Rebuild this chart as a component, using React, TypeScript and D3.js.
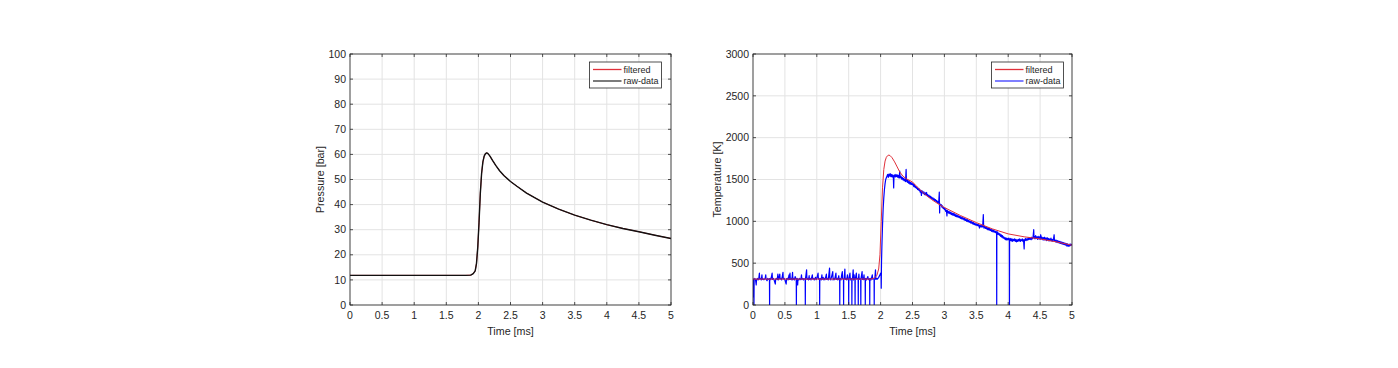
import React from "react";
import * as d3 from "d3";

// ---------- data ----------
const xTicks = [0, 0.5, 1, 1.5, 2, 2.5, 3, 3.5, 4, 4.5, 5];
const pressureTicks = [0, 10, 20, 30, 40, 50, 60, 70, 80, 90, 100];
const temperatureTicks = [0, 500, 1000, 1500, 2000, 2500, 3000];
const legendLabels = ["filtered", "raw-data"];

const pressureTime = [0, 0.5, 1, 1.5, 1.8, 1.88, 1.92, 1.95, 1.97, 1.99, 2.01, 2.03, 2.05, 2.07, 2.09, 2.11, 2.13, 2.15, 2.18, 2.22, 2.27, 2.33, 2.4, 2.5, 2.6, 2.75, 3, 3.25, 3.5, 3.75, 4, 4.25, 4.5, 4.75, 5];
const pressureFiltered = [11.8, 11.8, 11.8, 11.8, 11.8, 11.9, 12.5, 13.6, 16.5, 23, 33, 44.5, 52.5, 57, 59.3, 60.3, 60.6, 60.3, 59.3, 57.6, 55.6, 53.5, 51.5, 49.2, 47.3, 44.6, 41, 38.2, 35.8, 33.8, 32, 30.5, 29.2, 27.8, 26.5];
const pressureRaw = [11.8, 11.8, 11.8, 11.8, 11.8, 11.9, 12.5, 13.6, 16.5, 23, 33, 44.5, 52.5, 57, 59.3, 60.3, 60.6, 60.3, 59.3, 57.6, 55.6, 53.5, 51.5, 49.2, 47.3, 44.6, 41, 38.2, 35.8, 33.8, 32, 30.5, 29.2, 27.8, 26.5];

const tempFilteredTime = [0, 0.5, 1, 1.5, 1.85, 1.9, 1.94, 1.97, 1.99, 2.01, 2.03, 2.05, 2.07, 2.09, 2.11, 2.13, 2.15, 2.18, 2.22, 2.26, 2.3, 2.35, 2.4, 2.5, 2.6, 2.7, 2.8, 2.9, 3, 3.25, 3.5, 3.75, 4, 4.25, 4.5, 4.75, 5];
const tempFiltered = [310, 310, 310, 310, 310, 320, 350, 430, 600, 1000, 1400, 1620, 1720, 1765, 1785, 1792, 1785, 1760, 1710, 1650, 1590, 1540, 1510, 1470, 1390, 1320, 1260, 1210, 1165, 1070, 985, 910, 850, 815, 790, 755, 715];

const tempRaw: [number, number][] = [
  [0, 90], [0.005, 310], [0.012, 300], [0.015, 0], [0.018, 305], [0.03, 318], [0.04, 300], [0.05, 240], [0.055, 300], [0.07, 318], [0.08, 300], [0.09, 312],
  [0.1, 380], [0.105, 310], [0.12, 318], [0.13, 300], [0.14, 360], [0.145, 305], [0.15, 318], [0.17, 302], [0.19, 316], [0.2, 360], [0.205, 310], [0.22, 290], [0.23, 318], [0.24, 305], [0.258, 315],
  [0.26, 0], [0.262, 308], [0.27, 318], [0.28, 302], [0.3, 380], [0.305, 305], [0.32, 318], [0.33, 300], [0.35, 250], [0.355, 310], [0.37, 318], [0.38, 302], [0.39, 370], [0.395, 310], [0.4, 300],
  [0.42, 370], [0.425, 310], [0.44, 318], [0.45, 300], [0.47, 390], [0.475, 310], [0.49, 318], [0.5, 300], [0.52, 250], [0.525, 312], [0.54, 318], [0.55, 300], [0.565, 360], [0.57, 305], [0.58, 380],
  [0.585, 305], [0.6, 318], [0.61, 300], [0.62, 390], [0.625, 302], [0.64, 318], [0.65, 300], [0.66, 340], [0.678, 305], [0.68, 0], [0.682, 300], [0.69, 318], [0.7, 240], [0.705, 312], [0.72, 300], [0.73, 318],
  [0.75, 302], [0.76, 360], [0.765, 308], [0.78, 318], [0.79, 300], [0.8, 315], [0.818, 305], [0.82, 0], [0.822, 310], [0.84, 420], [0.845, 305], [0.86, 318], [0.87, 300], [0.88, 350], [0.885, 305], [0.9, 318],
  [0.91, 300], [0.93, 360], [0.935, 310], [0.95, 318], [0.96, 300], [0.98, 330], [0.99, 302], [1.0, 318], [1.02, 380], [1.025, 310], [1.035, 318], [1.043, 305], [1.045, 0], [1.047, 310],
  [1.06, 318], [1.07, 300], [1.08, 360], [1.085, 305], [1.1, 330], [1.11, 300], [1.12, 318], [1.13, 302], [1.15, 370], [1.155, 305], [1.17, 318], [1.18, 300], [1.2, 440], [1.205, 310], [1.21, 318], [1.22, 300], [1.25, 400], [1.255, 300],
  [1.27, 318], [1.28, 302], [1.3, 380], [1.305, 305], [1.32, 318], [1.33, 300], [1.345, 350], [1.35, 305], [1.358, 312], [1.36, 0], [1.362, 310], [1.375, 318], [1.38, 300], [1.39, 360], [1.4, 400], [1.405, 315],
  [1.418, 305], [1.42, 0], [1.422, 310], [1.43, 318], [1.44, 430], [1.445, 305], [1.46, 318], [1.47, 300], [1.48, 360], [1.485, 310], [1.498, 305], [1.5, 0],
  [1.502, 310], [1.52, 380], [1.525, 300], [1.535, 318], [1.548, 310], [1.55, 0], [1.552, 305], [1.56, 318], [1.57, 420], [1.575, 300], [1.585, 360], [1.59, 305], [1.598, 310], [1.6, 0],
  [1.602, 305], [1.62, 380], [1.625, 310], [1.635, 318], [1.648, 305], [1.65, 0], [1.652, 310], [1.66, 370], [1.665, 305], [1.67, 318], [1.688, 305], [1.69, 0], [1.692, 310],
  [1.71, 400], [1.715, 305], [1.72, 318], [1.73, 302], [1.74, 360], [1.745, 305], [1.758, 315], [1.76, 0], [1.762, 310], [1.77, 318], [1.78, 300], [1.8, 340], [1.81, 302], [1.828, 315], [1.83, 0],
  [1.832, 310], [1.84, 318], [1.85, 300], [1.87, 360], [1.875, 310], [1.885, 318], [1.898, 305], [1.9, 0], [1.902, 310], [1.91, 318], [1.92, 420], [1.925, 305], [1.94, 318], [1.95, 310],
  [1.97, 330], [1.99, 360], [2.0, 380], [2.008, 350], [2.01, 200], [2.014, 500], [2.02, 700], [2.03, 950], [2.04, 1150], [2.05, 1280],
  [2.06, 1380], [2.07, 1450], [2.08, 1500], [2.09, 1520],
  [2.1, 1540], [2.11, 1560], [2.12, 1525], [2.13, 1565], [2.14, 1540], [2.15, 1570], [2.16, 1535], [2.17, 1560], [2.18, 1530], [2.19, 1555],
  [2.2, 1520], [2.205, 1400], [2.21, 1545], [2.22, 1555], [2.23, 1530], [2.24, 1560], [2.25, 1535], [2.26, 1555], [2.27, 1525], [2.28, 1550],
  [2.29, 1515], [2.3, 1600], [2.305, 1530], [2.31, 1520], [2.32, 1540], [2.33, 1505], [2.34, 1525], [2.35, 1495], [2.36, 1515], [2.37, 1485],
  [2.38, 1505], [2.39, 1475], [2.4, 1620], [2.405, 1480],
  [2.41, 1500], [2.42, 1465], [2.43, 1490], [2.44, 1455], [2.45, 1475], [2.46, 1445], [2.47, 1465], [2.48, 1440], [2.49, 1460], [2.5, 1435],
  [2.51, 1450], [2.52, 1415], [2.53, 1440], [2.54, 1405], [2.55, 1420], [2.56, 1395], [2.57, 1410], [2.58, 1380], [2.59, 1395], [2.6, 1370],
  [2.61, 1385], [2.62, 1350], [2.63, 1370], [2.64, 1310], [2.645, 1365], [2.65, 1340], [2.66, 1360], [2.67, 1330], [2.68, 1350], [2.69, 1320],
  [2.7, 1340], [2.71, 1315], [2.72, 1345], [2.73, 1305], [2.74, 1320], [2.75, 1295], [2.76, 1310], [2.77, 1285], [2.78, 1300], [2.79, 1275],
  [2.8, 1290], [2.81, 1265], [2.82, 1280], [2.83, 1255], [2.84, 1270], [2.85, 1245], [2.86, 1260], [2.87, 1235], [2.88, 1250], [2.89, 1225],
  [2.9, 1235], [2.91, 1215], [2.92, 1350], [2.925, 1100], [2.93, 1210], [2.94, 1190], [2.95, 1200], [2.96, 1170], [2.97, 1185], [2.98, 1155],
  [2.99, 1165], [3.0, 1140], [3.01, 1155], [3.02, 1120], [3.03, 1135], [3.04, 1065], [3.045, 1130], [3.05, 1105], [3.06, 1120], [3.07, 1095],
  [3.08, 1115], [3.09, 1090], [3.1, 1110], [3.11, 1080], [3.12, 1100], [3.13, 1075], [3.14, 1095], [3.15, 1070], [3.16, 1090], [3.17, 1060],
  [3.18, 1080], [3.19, 1055], [3.2, 1075], [3.21, 1050], [3.22, 1065], [3.23, 1045], [3.24, 1060], [3.25, 1035], [3.26, 1055], [3.27, 1030],
  [3.28, 1045], [3.29, 1025], [3.3, 1040], [3.31, 1015], [3.32, 1035], [3.33, 1010], [3.34, 1025], [3.35, 1000], [3.36, 1020], [3.37, 995],
  [3.38, 1010], [3.39, 990], [3.4, 1005], [3.41, 980], [3.42, 1000], [3.43, 975], [3.44, 990], [3.45, 965], [3.46, 985], [3.47, 960],
  [3.48, 975], [3.49, 955], [3.5, 970], [3.51, 950], [3.52, 965], [3.53, 945], [3.54, 960], [3.55, 920], [3.56, 955], [3.57, 935],
  [3.58, 950], [3.59, 930], [3.6, 945], [3.61, 1080], [3.615, 940], [3.62, 920], [3.63, 940], [3.64, 915], [3.65, 935], [3.66, 910],
  [3.67, 925], [3.68, 900], [3.69, 920], [3.7, 895], [3.71, 915], [3.72, 890], [3.73, 905], [3.74, 880], [3.75, 900], [3.76, 875],
  [3.77, 895], [3.78, 870], [3.79, 885], [3.8, 865], [3.81, 880], [3.818, 860], [3.82, 0], [3.822, 860], [3.83, 875], [3.84, 845],
  [3.85, 860], [3.86, 835], [3.87, 850], [3.88, 820], [3.89, 840], [3.9, 810], [3.91, 830], [3.92, 800], [3.93, 815], [3.94, 790],
  [3.95, 805], [3.96, 780], [3.97, 800], [3.98, 775], [3.99, 795], [4.0, 780], [4.01, 800], [4.018, 775], [4.02, 0], [4.022, 790],
  [4.03, 770], [4.04, 795], [4.05, 765], [4.06, 790], [4.07, 760], [4.08, 785], [4.09, 770], [4.1, 790], [4.11, 760], [4.12, 785],
  [4.13, 755], [4.14, 780], [4.15, 760], [4.16, 785], [4.17, 765], [4.18, 790], [4.19, 760], [4.2, 780], [4.21, 770], [4.22, 790],
  [4.23, 760], [4.24, 780], [4.25, 670], [4.255, 780], [4.26, 770], [4.27, 795], [4.28, 770], [4.29, 790], [4.3, 775], [4.31, 800],
  [4.32, 780], [4.33, 805], [4.34, 785], [4.35, 800], [4.36, 780], [4.37, 810], [4.38, 790], [4.39, 815], [4.4, 900], [4.405, 800],
  [4.41, 820], [4.42, 790], [4.43, 830], [4.44, 795], [4.45, 815], [4.46, 785], [4.47, 820], [4.48, 790], [4.49, 815], [4.5, 785],
  [4.51, 840], [4.52, 790], [4.53, 810], [4.54, 780], [4.55, 805], [4.56, 775], [4.57, 810], [4.58, 780], [4.59, 800], [4.6, 770],
  [4.61, 805], [4.62, 775], [4.63, 795], [4.64, 765], [4.65, 790], [4.66, 770], [4.67, 800], [4.68, 765], [4.69, 785], [4.7, 760],
  [4.71, 790], [4.72, 840], [4.725, 770], [4.73, 780], [4.74, 755], [4.75, 775], [4.76, 750], [4.77, 770], [4.78, 745], [4.79, 765],
  [4.8, 740], [4.81, 760], [4.82, 735], [4.83, 755], [4.84, 730], [4.85, 750], [4.86, 725], [4.87, 745], [4.88, 720], [4.89, 740],
  [4.9, 715], [4.91, 735], [4.92, 705], [4.93, 730], [4.94, 700], [4.95, 725], [4.96, 705], [4.97, 730], [4.98, 710], [4.99, 725],
  [5.0, 715],
];

// ---------- chart ----------
const FONT = "'Liberation Sans', Arial, Helvetica, sans-serif";
const TXT = "#262626";
const GRID = "#e3e3e3";
const RED = "#e0303a";

type Series = { pts: [number, number][]; color: string; width: number };

function Panel(props: {
  id: string;
  left: number; top: number; right: number; bottom: number;
  yDomain: [number, number]; yTicks: number[]; yLabel: string; yLabelX: number;
  series: Series[]; legendColors: string[]; legendX: number;
}) {
  const { id, left, top, right, bottom, yDomain, yTicks, yLabel, yLabelX, series, legendColors, legendX } = props;
  const x = d3.scaleLinear().domain([0, 5]).range([left, right]);
  const y = d3.scaleLinear().domain(yDomain).range([bottom, top]);
  const line = d3.line<[number, number]>().x((d) => x(d[0])).y((d) => y(d[1]));
  const tl = 3;
  const legY = 62, legW = 72, legH = 26;
  return (
    <g>
      {xTicks.map((t) => (
        <line key={"gx" + t} x1={x(t)} x2={x(t)} y1={top} y2={bottom} stroke={GRID} strokeWidth={1} />
      ))}
      {yTicks.map((t) => (
        <line key={"gy" + t} x1={left} x2={right} y1={y(t)} y2={y(t)} stroke={GRID} strokeWidth={1} />
      ))}
      <defs>
        <clipPath id={"clip" + id}>
          <rect x={left} y={top} width={right - left} height={bottom - top} />
        </clipPath>
      </defs>
      <g clipPath={`url(#clip${id})`}>
        {series.map((s, i) => (
          <path key={i} d={line(s.pts) || ""} fill="none" stroke={s.color} strokeWidth={s.width} strokeLinejoin="round" />
        ))}
      </g>
      <rect x={left} y={top} width={right - left} height={bottom - top} fill="none" stroke={TXT} strokeWidth={0.8} />
      {xTicks.map((t) => (
        <g key={"tx" + t}>
          <line x1={x(t)} x2={x(t)} y1={bottom} y2={bottom - tl} stroke={TXT} strokeWidth={0.8} />
          <line x1={x(t)} x2={x(t)} y1={top} y2={top + tl} stroke={TXT} strokeWidth={0.8} />
          <text x={x(t)} y={bottom + 14} textAnchor="middle" fontSize={10.5} fontFamily={FONT} fill={TXT}>
            {String(t)}
          </text>
        </g>
      ))}
      {yTicks.map((t) => (
        <g key={"ty" + t}>
          <line x1={left} x2={left + tl} y1={y(t)} y2={y(t)} stroke={TXT} strokeWidth={0.8} />
          <line x1={right} x2={right - tl} y1={y(t)} y2={y(t)} stroke={TXT} strokeWidth={0.8} />
          <text x={left - 4} y={y(t)} dy="0.35em" textAnchor="end" fontSize={10.5} fontFamily={FONT} fill={TXT}>
            {String(t)}
          </text>
        </g>
      ))}
      <text x={(left + right) / 2} y={bottom + 30} textAnchor="middle" fontSize={10.7} fontFamily={FONT} fill={TXT}>
        Time [ms]
      </text>
      <text
        transform={`translate(${yLabelX},${(top + bottom) / 2}) rotate(-90)`}
        textAnchor="middle" fontSize={10.7} fontFamily={FONT} fill={TXT}
      >
        {yLabel}
      </text>
      <rect x={legendX} y={legY} width={legW} height={legH} fill="#fff" stroke={TXT} strokeWidth={0.8} />
      {legendLabels.map((lab, i) => {
        const cy = legY + 7.5 + i * 11.5;
        return (
          <g key={lab}>
            <line x1={legendX + 3.5} x2={legendX + 32} y1={cy} y2={cy} stroke={legendColors[i]} strokeWidth={1.3} />
            <text x={legendX + 34} y={cy} dy="0.35em" fontSize={9} fontFamily={FONT} fill={TXT}>
              {lab}
            </text>
          </g>
        );
      })}
    </g>
  );
}

export default function App() {
  const pFilt: [number, number][] = pressureTime.map((t, i) => [t, pressureFiltered[i]]);
  const pRaw: [number, number][] = pressureTime.map((t, i) => [t, pressureRaw[i]]);
  const tFilt: [number, number][] = tempFilteredTime.map((t, i) => [t, tempFiltered[i]]);
  return (
    <svg width={1398} height={368} style={{ position: "absolute", left: 0, top: 0, background: "#fff" }}>
      <rect x={0} y={0} width={1398} height={368} fill="#fff" />
      <Panel
        id="p"
        left={350} top={54} right={671} bottom={305}
        yDomain={[0, 100]} yTicks={pressureTicks} yLabel="Pressure [bar]" yLabelX={324}
        series={[
          { pts: pFilt, color: RED, width: 1 },
          { pts: pRaw, color: "#111", width: 1.4 },
        ]}
        legendColors={[RED, "#333"]} legendX={589.5}
      />
      <Panel
        id="t"
        left={753} top={54} right={1072} bottom={305}
        yDomain={[0, 3000]} yTicks={temperatureTicks} yLabel="Temperature [K]" yLabelX={721}
        series={[
          { pts: tempRaw, color: "#0000ff", width: 1.2 },
          { pts: tFilt, color: RED, width: 1 },
        ]}
        legendColors={[RED, "#3a3aff"]} legendX={991.5}
      />
    </svg>
  );
}
